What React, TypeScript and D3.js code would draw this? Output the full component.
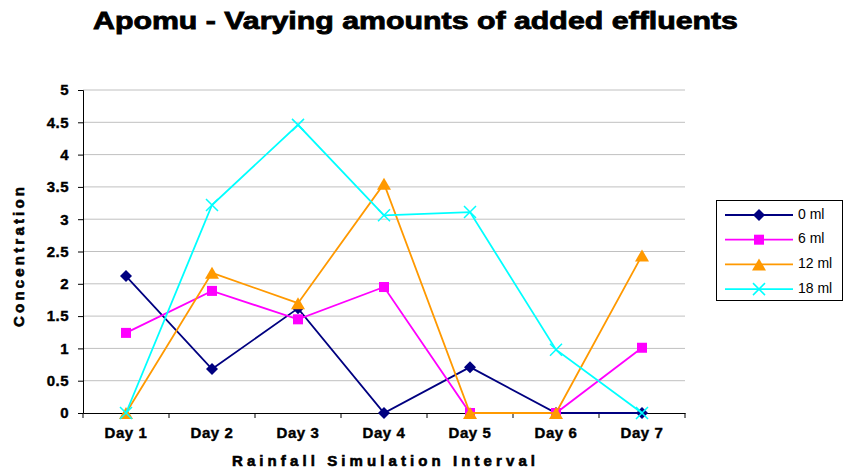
import { useRef, useEffect } from "react";
import * as d3 from "d3";

const days = ["Day 1", "Day 2", "Day 3", "Day 4", "Day 5", "Day 6", "Day 7"];
const yTicks = [0, 0.5, 1, 1.5, 2, 2.5, 3, 3.5, 4, 4.5, 5];

const ml0 = [2.12, 0.68, 1.62, 0, 0.71, 0, 0];
const ml6 = [1.24, 1.89, 1.45, 1.95, 0, 0, 1.01];
const ml12 = [0, 2.17, 1.7, 3.55, 0, 0, 2.44];
const ml18 = [0, 3.22, 4.46, 3.06, 3.11, 0.98, 0];

const seriesNames = ["0 ml", "6 ml", "12 ml", "18 ml"];
const seriesColors = ["#000080", "#ff00ff", "#ff9900", "#00ffff"];
const seriesMarkers = ["diamond", "square", "triangle", "cross"];

const FONT = "'Liberation Sans', Arial, sans-serif";

function drawMarker(g: d3.Selection<SVGGElement, unknown, null, undefined>, kind: string, x: number, y: number, color: string) {
  if (kind === "diamond") {
    g.append("path").attr("d", `M${x},${y - 6}L${x + 6},${y}L${x},${y + 6}L${x - 6},${y}Z`).attr("fill", color);
  } else if (kind === "square") {
    g.append("rect").attr("x", x - 5).attr("y", y - 5).attr("width", 10).attr("height", 10).attr("fill", color);
  } else if (kind === "triangle") {
    g.append("path").attr("d", `M${x},${y - 6}L${x + 7},${y + 6}L${x - 7},${y + 6}Z`).attr("fill", color);
  } else {
    g.append("path")
      .attr("d", `M${x - 6},${y - 6}L${x + 6},${y + 6}M${x + 6},${y - 6}L${x - 6},${y + 6}`)
      .attr("stroke", color).attr("stroke-width", 1.5).attr("fill", "none");
  }
}

export default function App() {
  const svgRef = useRef<SVGSVGElement>(null);

  useEffect(() => {
    if (!svgRef.current) return;
    const svg = d3.select(svgRef.current);
    svg.selectAll("*").remove();

    const width = 845;
    const height = 474;
    const margin = { top: 90, right: 160, bottom: 61, left: 83 };
    const plotW = 685 - margin.left;

    svg.attr("width", width).attr("height", height).style("background", "#fff");

    const x = d3.scaleBand().domain(days).range([margin.left, margin.left + plotW]);
    const y = d3.scaleLinear().domain([0, 5]).range([height - margin.bottom, margin.top]);

    // gridlines
    svg.append("g").selectAll("line").data(yTicks.filter((t) => t > 0)).join("line")
      .attr("x1", margin.left).attr("x2", margin.left + plotW)
      .attr("y1", (d) => y(d)).attr("y2", (d) => y(d))
      .attr("stroke", "#c0c0c0").attr("stroke-width", 1);

    // y axis
    const yAxis = svg.append("g").attr("transform", `translate(${margin.left},0)`)
      .call(d3.axisLeft(y).tickValues(yTicks).tickSize(5).tickFormat((d) => String(d)));
    yAxis.select(".domain").attr("stroke", "#000");
    yAxis.selectAll("line").attr("stroke", "#000");
    yAxis.selectAll("text").attr("font-family", FONT).attr("font-weight", "bold")
      .attr("font-size", 15).attr("fill", "#000").attr("stroke", "#000").attr("stroke-width", 0.4)
      .attr("letter-spacing", 0.5).attr("dx", -6);

    // x axis
    const xAxis = svg.append("g").attr("transform", `translate(0,${y(0)})`)
      .call(d3.axisBottom(x).tickSize(0).tickPadding(14));
    xAxis.select(".domain").attr("stroke", "#000");
    xAxis.selectAll("text").attr("font-family", FONT).attr("font-weight", "bold")
      .attr("font-size", 15).attr("fill", "#000").attr("stroke", "#000").attr("stroke-width", 0.4)
      .attr("letter-spacing", 0.6);
    const bounds = d3.range(days.length + 1).map((i) => margin.left + i * x.step());
    xAxis.selectAll("line.bound").data(bounds).join("line").attr("class", "bound")
      .attr("x1", (d) => d).attr("x2", (d) => d).attr("y1", 0).attr("y2", 5).attr("stroke", "#000");

    // series
    const allSeries = [ml0, ml6, ml12, ml18];
    const line = d3.line<number>().x((_, i) => (x(days[i]) ?? 0) + x.bandwidth() / 2).y((d) => y(d));
    allSeries.forEach((vals, si) => {
      const g = svg.append("g");
      g.append("path").attr("d", line(vals)).attr("fill", "none")
        .attr("stroke", seriesColors[si]).attr("stroke-width", 1.8);
      vals.forEach((v, i) => {
        drawMarker(g, seriesMarkers[si], (x(days[i]) ?? 0) + x.bandwidth() / 2, y(v), seriesColors[si]);
      });
    });

    // legend
    const lg = svg.append("g");
    lg.append("rect").attr("x", 716.5).attr("y", 200.5).attr("width", 126).attr("height", 100)
      .attr("fill", "#fff").attr("stroke", "#000").attr("stroke-width", 1);
    seriesNames.forEach((name, i) => {
      const ly = 215 + i * 24.7;
      lg.append("line").attr("x1", 725).attr("x2", 793).attr("y1", ly).attr("y2", ly)
        .attr("stroke", seriesColors[i]).attr("stroke-width", 1.8);
      drawMarker(lg, seriesMarkers[i], 759, ly, seriesColors[i]);
      lg.append("text").attr("x", 798).attr("y", ly).attr("dominant-baseline", "middle")
        .attr("font-family", FONT).attr("font-size", 14).attr("fill", "#000").text(name);
    });

    // titles
    svg.append("text").attr("x", 93).attr("y", 29)
      .attr("font-family", FONT).attr("font-weight", "bold").attr("font-size", 23)
      .attr("stroke", "#000").attr("stroke-width", 0.8)
      .attr("textLength", 645).attr("lengthAdjust", "spacingAndGlyphs")
      .text("Apomu - Varying amounts of added effluents");
    svg.append("text").attr("x", 232).attr("y", 466)
      .attr("font-family", FONT).attr("font-weight", "bold").attr("font-size", 15)
      .attr("stroke", "#000").attr("stroke-width", 0.6)
      .attr("textLength", 303).attr("lengthAdjust", "spacing").text("Rainfall Simulation Interval");
    svg.append("text").attr("transform", `translate(24,327) rotate(-90)`)
      .attr("font-family", FONT).attr("font-weight", "bold").attr("font-size", 15)
      .attr("stroke", "#000").attr("stroke-width", 0.6)
      .attr("textLength", 140).attr("lengthAdjust", "spacing").text("Concentration");
  }, []);

  return <svg ref={svgRef} style={{ position: "absolute", left: 0, top: 0 }} />;
}
